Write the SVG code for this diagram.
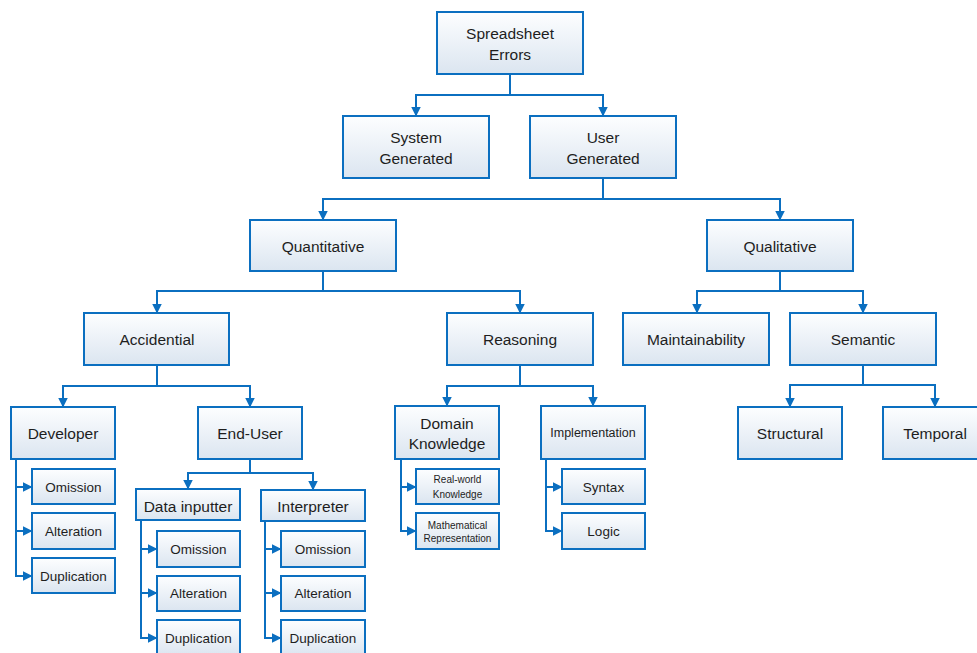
<svg xmlns="http://www.w3.org/2000/svg" width="977" height="653" viewBox="0 0 977 653">
<defs>
<linearGradient id="g" x1="0" y1="0" x2="0" y2="1">
<stop offset="0" stop-color="#fdfeff"/>
<stop offset="1" stop-color="#dbe5f0"/>
</linearGradient>
<marker id="ar" markerUnits="userSpaceOnUse" markerWidth="10" markerHeight="10" refX="9.5" refY="5" orient="auto">
<path d="M0,0 L10,5 L0,10 z" fill="#0b6fc0"/>
</marker>
<style>
rect{fill:url(#g);stroke:#0b6fc0;stroke-width:2}
text{font-family:"Liberation Sans",Arial,sans-serif;fill:#1e1e1e;text-anchor:middle;dominant-baseline:central}
.m{font-size:15.5px}
.s{font-size:13.5px}
.i{font-size:12.5px}
.t{font-size:10px}
#connectors path{fill:none;stroke:#0b6fc0;stroke-width:2;marker-end:url(#ar)}
</style>
</defs>
<rect x="0" y="0" width="977" height="653" style="fill:#fff;stroke:none"/>
<g id="connectors">
<path d="M510,74 V95 H416 V116"/>
<path d="M510,74 V95 H603 V116"/>
<path d="M603,178 V199 H323 V220"/>
<path d="M603,178 V199 H780 V220"/>
<path d="M323,271 V291 H157 V313"/>
<path d="M323,271 V291 H520 V313"/>
<path d="M780,271 V291 H697 V313"/>
<path d="M780,271 V291 H863 V313"/>
<path d="M157,365 V386 H63 V407"/>
<path d="M157,365 V386 H250 V407"/>
<path d="M520,365 V386 H447 V406"/>
<path d="M520,365 V386 H593 V406"/>
<path d="M863,365 V385 H790 V407"/>
<path d="M863,365 V385 H935 V407"/>
<path d="M16,459 V487 H32"/>
<path d="M16,459 V531 H32"/>
<path d="M16,459 V576 H32"/>
<path d="M250,459 V473 H188 V489"/>
<path d="M250,459 V473 H313 V490"/>
<path d="M141,520 V549 H157"/>
<path d="M141,520 V593 H157"/>
<path d="M141,520 V638 H157"/>
<path d="M265,521 V549 H281"/>
<path d="M265,521 V593 H281"/>
<path d="M265,521 V638 H281"/>
<path d="M401,459 V487 H416"/>
<path d="M401,459 V531 H416"/>
<path d="M546,459 V487 H562"/>
<path d="M546,459 V531 H562"/>
</g>
<g id="n-root"><rect x="437" y="12" width="146" height="62"/><text class="m" x="510" y="33">Spreadsheet</text><text class="m" x="510" y="54">Errors</text></g>
<g id="n-system"><rect x="343" y="116" width="146" height="62"/><text class="m" x="416" y="137">System</text><text class="m" x="416" y="158">Generated</text></g>
<g id="n-user"><rect x="530" y="116" width="146" height="62"/><text class="m" x="603" y="137">User</text><text class="m" x="603" y="158">Generated</text></g>
<g id="n-quant"><rect x="250" y="220" width="146" height="51"/><text class="m" x="323" y="246">Quantitative</text></g>
<g id="n-qual"><rect x="707" y="220" width="146" height="51"/><text class="m" x="780" y="246">Qualitative</text></g>
<g id="n-accid"><rect x="84" y="313" width="145" height="52"/><text class="m" x="157" y="339">Accidential</text></g>
<g id="n-reason"><rect x="447" y="313" width="146" height="52"/><text class="m" x="520" y="339">Reasoning</text></g>
<g id="n-maint"><rect x="623" y="313" width="146" height="52"/><text class="m" x="696" y="339">Maintainability</text></g>
<g id="n-sem"><rect x="790" y="313" width="146" height="52"/><text class="m" x="863" y="339">Semantic</text></g>
<g id="n-dev"><rect x="11" y="407" width="104" height="52"/><text class="m" x="63" y="433">Developer</text></g>
<g id="n-enduser"><rect x="198" y="407" width="104" height="52"/><text class="m" x="250" y="433">End-User</text></g>
<g id="n-domain"><rect x="395" y="406" width="104" height="53"/><text class="m" x="447" y="423">Domain</text><text class="m" x="447" y="443">Knowledge</text></g>
<g id="n-impl"><rect x="541" y="406" width="104" height="53"/><text class="i" x="593" y="433">Implementation</text></g>
<g id="n-struct"><rect x="738" y="407" width="104" height="52"/><text class="m" x="790" y="433">Structural</text></g>
<g id="n-temp"><rect x="883" y="407" width="104" height="52"/><text class="m" x="935" y="433">Temporal</text></g>
<g id="n-dev-om"><rect x="32" y="469" width="83" height="35"/><text class="s" x="73.5" y="487">Omission</text></g>
<g id="n-dev-al"><rect x="32" y="513" width="83" height="36"/><text class="s" x="73.5" y="531">Alteration</text></g>
<g id="n-dev-du"><rect x="32" y="558" width="83" height="35"/><text class="s" x="73.5" y="576">Duplication</text></g>
<g id="n-data"><rect x="136" y="489" width="104" height="31"/><text class="m" x="188" y="506">Data inputter</text></g>
<g id="n-interp"><rect x="261" y="490" width="104" height="31"/><text class="m" x="313" y="506">Interpreter</text></g>
<g id="n-data-om"><rect x="157" y="531" width="83" height="36"/><text class="s" x="198.5" y="549">Omission</text></g>
<g id="n-data-al"><rect x="157" y="576" width="83" height="35"/><text class="s" x="198.5" y="593">Alteration</text></g>
<g id="n-data-du"><rect x="157" y="620" width="83" height="36"/><text class="s" x="198.5" y="638">Duplication</text></g>
<g id="n-int-om"><rect x="281" y="531" width="84" height="36"/><text class="s" x="323" y="549">Omission</text></g>
<g id="n-int-al"><rect x="281" y="576" width="84" height="35"/><text class="s" x="323" y="593">Alteration</text></g>
<g id="n-int-du"><rect x="281" y="620" width="84" height="36"/><text class="s" x="323" y="638">Duplication</text></g>
<g id="n-real"><rect x="416" y="469" width="83" height="35"/><text class="t" x="457.5" y="479">Real-world</text><text class="t" x="457.5" y="494">Knowledge</text></g>
<g id="n-math"><rect x="416" y="513" width="83" height="36"/><text class="t" x="457.5" y="525">Mathematical</text><text class="t" x="457.5" y="538">Representation</text></g>
<g id="n-syntax"><rect x="562" y="469" width="83" height="35"/><text class="s" x="603.5" y="487">Syntax</text></g>
<g id="n-logic"><rect x="562" y="513" width="83" height="36"/><text class="s" x="603.5" y="531">Logic</text></g>
</svg>
